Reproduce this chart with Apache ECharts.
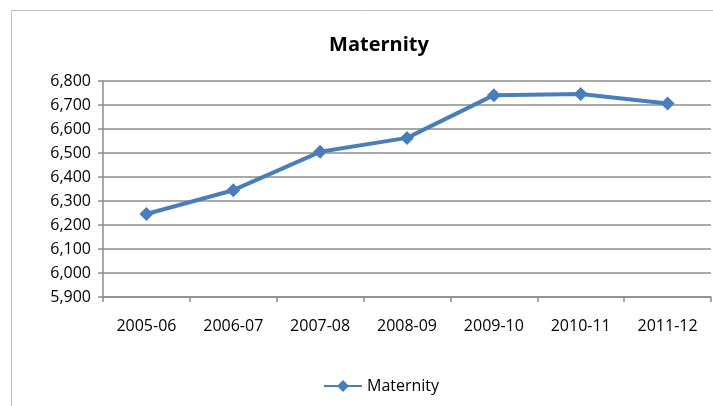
<!DOCTYPE html>
<html>
<head>
<meta charset="utf-8">
<script src="https://cdn.jsdelivr.net/npm/echarts@6/dist/echarts.min.js"></script>
<style>
html, body { margin: 0; padding: 0; background: #fff; }
#one { width: 713px; height: 406px; }
</style>
</head>
<body>
<div id="one"></div>
<script>
// data
var years = ['2005-06', '2006-07', '2007-08', '2008-09', '2009-10', '2010-11', '2011-12'];
var maternity = [6246, 6345, 6505, 6563, 6741, 6746, 6706];

var mainContainer = document.getElementById('one');
var line_Chart = echarts.init(mainContainer);

var font = 'Open Sans';

var line_Chart_option = {
    animation: false,
    title: {
        text: 'Maternity',
        left: 374,
        top: 30,
        textAlign: 'center',
        textStyle: { fontFamily: font, fontSize: 20, fontWeight: 'bold', color: '#000' }
    },
    graphic: [{
        type: 'rect',
        shape: { x: 11.5, y: 10.5, width: 720, height: 420 },
        style: { fill: 'none', stroke: '#bfbfbf', lineWidth: 1 },
        silent: true
    }],
    legend: {
        data: ['Maternity'],
        left: 318,
        top: 373,
        itemWidth: 38,
        itemHeight: 15,
        itemGap: 5,
        textStyle: { fontFamily: font, fontSize: 16, color: '#000' }
    },
    grid: { left: 103, right: 2, top: 81, bottom: 109 },
    xAxis: {
        type: 'category',
        data: years,
        boundaryGap: true,
        axisLine: { lineStyle: { color: '#8c8c8c', width: 1.5 } },
        axisTick: { show: true, length: 5, lineStyle: { color: '#8c8c8c', width: 1.5 } },
        axisLabel: { fontFamily: font, fontSize: 16, color: '#000', margin: 21 }
    },
    yAxis: {
        type: 'value',
        min: 5900,
        max: 6800,
        interval: 100,
        axisLine: { show: true, lineStyle: { color: '#8c8c8c', width: 1.5 } },
        axisTick: { show: true, length: 5, lineStyle: { color: '#8c8c8c', width: 1.5 } },
        splitLine: { lineStyle: { color: '#8c8c8c', width: 1.5 } },
        axisLabel: {
            fontFamily: font, fontSize: 16, color: '#000', margin: 12,
            formatter: function (v) { return v.toLocaleString('en-US'); }
        }
    },
    series: [{
        name: 'Maternity',
        type: 'line',
        data: maternity,
        symbol: 'diamond',
        symbolSize: 14,
        lineStyle: { color: '#4a7ebb', width: 4 },
        itemStyle: { color: '#4a7ebb' }
    }]
};
line_Chart.setOption(line_Chart_option);
</script>
</body>
</html>
